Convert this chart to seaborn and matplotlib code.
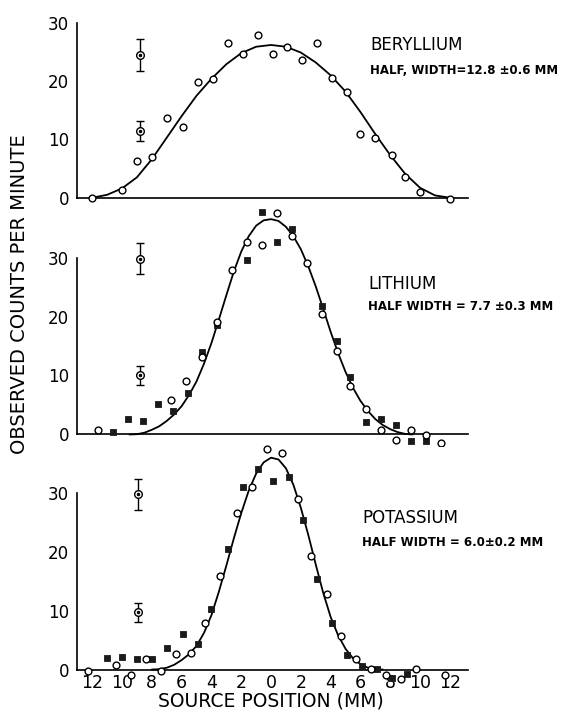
import numpy as np
import pandas as pd
import matplotlib
matplotlib.use("Agg")
import matplotlib.pyplot as plt
import seaborn as sns

# ---------------- data ----------------
# Beryllium
be_circ_x = [-12.0, -10.0, -9.0, -8.0, -7.0, -5.9, -4.9, -3.9, -2.9, -1.9, -0.9, 0.1, 1.1,
             2.1, 3.1, 4.1, 5.1, 6.0, 7.0, 8.1, 9.0, 10.0, 12.0]
be_circ_y = [0.0, 1.4, 6.3, 7.0, 13.6, 12.1, 19.8, 20.4, 26.5, 24.6, 27.9, 24.6, 25.8,
             23.7, 26.6, 20.5, 18.2, 11.0, 10.3, 7.4, 3.5, 1.0, -0.2]
be_curve_x = [-12, -11, -10, -9, -8, -7, -6, -5, -4, -3, -2, -1, 0, 1, 2, 3, 4, 5, 6, 7, 8,
              9, 10, 11, 12]
be_curve_y = [0.0, 0.5, 1.6, 3.5, 6.6, 10.3, 14.0, 17.5, 20.4, 22.9, 24.8, 25.9, 26.2, 25.9,
              24.9, 23.2, 21.0, 18.2, 14.7, 10.9, 7.3, 4.1, 1.7, 0.4, 0.0]
be_err_x = [-8.8, -8.8]
be_err_y = [24.5, 11.5]
be_err_e = [2.8, 1.7]

# Lithium
li_circ_x = [-11.6, -6.7, -5.7, -4.6, -3.6, -2.6, -1.6, -0.6, 0.4, 1.4, 2.4, 3.4, 4.4, 5.3,
             6.4, 7.4, 8.4, 9.4, 10.4, 11.4]
li_circ_y = [0.8, 5.8, 9.1, 13.2, 19.1, 27.8, 32.6, 32.1, 37.6, 33.6, 29.0, 20.4, 14.2, 8.3,
             4.3, 0.8, -0.9, 0.7, -0.1, -1.4]
li_sq_x = [-10.6, -9.6, -8.6, -7.6, -6.6, -5.6, -4.6, -3.6, -1.6, -0.6, 0.4, 1.4, 3.4, 4.4,
           5.3, 6.4, 7.4, 8.4, 9.4, 10.4]
li_sq_y = [0.4, 2.6, 2.3, 5.2, 4.0, 7.1, 14.0, 18.5, 29.5, 37.7, 32.6, 34.8, 21.8, 15.8,
           9.7, 2.2, 2.6, 1.6, -1.1, -1.1]
li_curve_x = [-9.5, -9, -8.5, -8, -7.5, -7, -6.5, -6, -5.5, -5, -4.5, -4, -3.5, -3, -2.5, -2,
              -1.5, -1, -0.5, 0, 0.5, 1, 1.5, 2, 2.5, 3, 3.5, 4, 4.5, 5, 5.5, 6, 6.5, 7,
              7.5, 8, 8.5, 9, 9.5]
li_curve_y = [0.0, 0.05, 0.3, 0.8, 1.4, 2.3, 3.4, 4.8, 6.7, 9.0, 12.0, 15.5, 19.5, 23.6,
              27.6, 31.0, 33.6, 35.4, 36.3, 36.5, 36.2, 35.2, 33.6, 31.4, 28.5, 25.1, 21.3,
              17.4, 13.8, 10.6, 7.9, 5.7, 4.0, 2.6, 1.6, 0.9, 0.4, 0.1, 0.0]
li_err_x = [-8.8, -8.8]
li_err_y = [29.8, 10.0]
li_err_e = [2.6, 1.6]

# Potassium
k_circ_x = [-12.3, -10.4, -9.4, -8.4, -7.4, -6.4, -5.4, -4.4, -3.4, -2.3, -1.3, -0.3, 0.75,
            1.8, 2.7, 3.75, 4.7, 5.7, 6.7, 7.7, 8.7, 9.7, 11.7]
k_circ_y = [-0.3, 0.8, -1.0, 1.7, -0.3, 2.7, 2.8, 7.9, 15.8, 26.6, 31.0, 37.3, 36.7,
            28.9, 19.2, 12.8, 5.6, 1.7, 0.1, -0.9, -1.6, 0.1, -0.9]
k_sq_x = [-11.0, -10.0, -9.0, -8.0, -7.0, -5.9, -4.9, -4.0, -2.9, -1.9, -0.9, 0.1, 1.2,
          2.15, 3.1, 4.1, 5.1, 6.1, 7.1, 8.1, 9.1]
k_sq_y = [2.0, 2.1, 1.8, 1.8, 3.6, 6.0, 4.4, 10.3, 20.5, 30.9, 33.9, 31.9, 32.7,
          25.4, 15.4, 7.9, 2.5, 0.6, 0.1, -1.4, -0.7]
k_curve_x = [-8, -7.5, -7, -6.5, -6, -5.5, -5, -4.5, -4, -3.5, -3, -2.5, -2, -1.5, -1, -0.5,
             0, 0.5, 1, 1.5, 2, 2.5, 3, 3.5, 4, 4.5, 5, 5.5, 6, 6.5, 7, 7.5]
k_curve_y = [0.0, 0.05, 0.3, 0.8, 1.6, 2.6, 4.0, 6.2, 9.2, 13.2, 17.6, 22.2, 26.5, 30.3,
             33.2, 35.1, 35.9, 35.6, 34.1, 31.3, 27.4, 22.8, 17.8, 13.0, 8.9, 5.8, 3.5, 1.9,
             0.9, 0.3, 0.05, 0.0]
k_err_x = [-8.9, -8.9]
k_err_y = [29.7, 9.7]
k_err_e = [2.6, 1.6]

x_ticks = [-12, -10, -8, -6, -4, -2, 0, 2, 4, 6, 8, 10, 12]
x_tick_labels = ["12", "10", "8", "6", "4", "2", "0", "2", "4", "6", "8", "10", "12"]
y_ticks = [0, 10, 20, 30]

names = ["BERYLLIUM", "LITHIUM", "POTASSIUM"]
widths = ["HALF, WIDTH=12.8 ±0.6 MM", "HALF WIDTH = 7.7 ±0.3 MM", "HALF WIDTH = 6.0±0.2 MM"]

# ---------------- figure ----------------
sns.set_style("white")
plt.rcParams["font.family"] = ["DejaVu Sans"]

W, H = 561, 711
fig = plt.figure(figsize=(W / 100, H / 100), dpi=100)
fig.patch.set_facecolor("white")

panels = [
    dict(rect=[0.1378, 0.7096, 0.696, 0.2624], ylim=(-1.5, 30.5),
         circ=(be_circ_x, be_circ_y), sq=None, curve=(be_curve_x, be_curve_y),
         err=(be_err_x, be_err_y, be_err_e)),
    dict(rect=[0.1378, 0.3723, 0.696, 0.3402], ylim=(-2, 39),
         circ=(li_circ_x, li_circ_y), sq=(li_sq_x, li_sq_y), curve=(li_curve_x, li_curve_y),
         err=(li_err_x, li_err_y, li_err_e)),
    dict(rect=[0.1378, 0.0376, 0.696, 0.3444], ylim=(-2.5, 39),
         circ=(k_circ_x, k_circ_y), sq=(k_sq_x, k_sq_y), curve=(k_curve_x, k_curve_y),
         err=(k_err_x, k_err_y, k_err_e)),
]

for i, p in enumerate(panels):
    ax = fig.add_axes(p["rect"])
    ax.patch.set_alpha(0)
    cx, cy = p["curve"]
    sns.lineplot(x=cx, y=cy, ax=ax, color="black", lw=1.3, sort=True, estimator=None)
    if p["sq"] is not None:
        sx, sy = p["sq"]
        sns.scatterplot(x=sx, y=sy, ax=ax, marker="s", s=19, color="#1a1a1a",
                        edgecolor="#1a1a1a", linewidth=0.6, zorder=4)
    ox, oy = p["circ"]
    sns.scatterplot(x=ox, y=oy, ax=ax, marker="o", s=24, facecolor="white",
                    edgecolor="black", linewidth=1.0, zorder=5)
    ex, ey, ee = p["err"]
    ax.errorbar(ex, ey, yerr=ee, fmt="o", ms=5.5, mfc="white", mec="black", mew=1.0,
                ecolor="black", elinewidth=1.0, capsize=3, capthick=1.0, zorder=6)
    ax.plot(ex, ey, "o", ms=1.5, color="black", zorder=7)

    ax.set_xlim(-13, 13.2)
    ax.set_ylim(*p["ylim"])
    for s in ["top", "right"]:
        ax.spines[s].set_visible(False)
    ax.spines["left"].set_bounds(0, 30)
    ax.spines["bottom"].set_position(("data", 0))
    for s in ["left", "bottom"]:
        ax.spines[s].set_color("black")
        ax.spines[s].set_linewidth(1.2)
    ax.set_yticks(y_ticks)
    ax.set_yticklabels([str(v) for v in y_ticks])
    ax.set_xticks(x_ticks)
    ax.tick_params(axis="y", direction="in", length=6, width=1.1, pad=6,
                   labelsize=12, colors="black")
    ax.tick_params(axis="x", direction="in", length=6, width=1.1, pad=3,
                   labelsize=12.5, colors="black")
    if i == 2:
        ax.set_xticklabels(x_tick_labels)
    else:
        ax.set_xticklabels([])
    ax.set_xlabel("")
    ax.set_ylabel("")

# annotations
txt_pos = [(370, 45, 70), (368, 284, 307), (362, 518, 542)]
for (xp, y1, y2), nm, wd in zip(txt_pos, names, widths):
    fig.text(xp / W, 1 - y1 / H, nm, fontsize=12, va="center", ha="left", color="black")
    fig.text(xp / W, 1 - y2 / H, wd, fontsize=8.5, fontweight="bold", va="center",
             ha="left", color="black")

fig.text(20 / W, 1 - 294 / H, "OBSERVED COUNTS PER MINUTE", rotation=90, fontsize=14,
         va="center", ha="center", color="black")
fig.text(271 / W, 1 - 701 / H, "SOURCE POSITION (MM)", fontsize=13.5, va="center",
         ha="center", color="black")

fig.savefig("out.png", dpi=100, facecolor="white")
